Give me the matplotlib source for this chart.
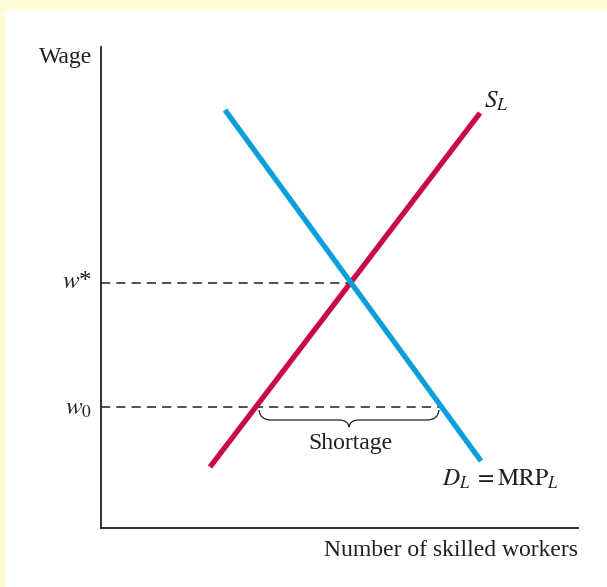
import matplotlib.pyplot as plt
import matplotlib.patches as mpatches
from matplotlib.path import Path

plt.rcParams['font.family'] = ['Liberation Serif', 'DejaVu Serif']
plt.rcParams['mathtext.fontset'] = 'stix'

# curve end points (quantity, wage)
supply_x = [109, 379]
supply_y = [61, 415]
demand_x = [124, 380]
demand_y = [418, 67]

w_star = 245
w_zero = 121
q_supply_w0 = 155
q_demand_w0 = 340

ink = '#231f20'
red = '#c8084a'
blue = '#0a9fdb'

fig = plt.figure(figsize=(6.07, 5.87), dpi=100)
fig.patch.set_facecolor('#fffbd6')
fig.patches.append(mpatches.Rectangle((5 / 607, 0), 1, 1 - 10 / 587, transform=fig.transFigure,
                                      facecolor='white', edgecolor='none', zorder=-5))

# axes frame: y-axis at px 101, x-axis at px 528
ax = fig.add_axes([101 / 607, (587 - 528) / 587, 477 / 607, 481 / 587])
ax.set_zorder(2)
ax.set_xlim(0, 477)
ax.set_ylim(0, 481)
ax.patch.set_alpha(0)
for s in ['top', 'right']:
    ax.spines[s].set_visible(False)
for s in ['left', 'bottom']:
    ax.spines[s].set_color(ink)
    ax.spines[s].set_linewidth(1.3)
ax.set_xticks([])
ax.set_yticks([])

ax.plot(supply_x, supply_y, color=red, lw=3.8, solid_capstyle='butt', zorder=3)
ax.plot(demand_x, demand_y, color=blue, lw=3.8, solid_capstyle='butt', zorder=4)

ax.plot([0, 249], [w_star, w_star], color=ink, lw=1.1, dashes=(6, 4), zorder=2)
ax.plot([0, q_demand_w0], [w_zero, w_zero], color=ink, lw=1.1, dashes=(6, 4), zorder=2)

# brace under the shortage
bx0, bx1 = q_supply_w0 + 3, q_demand_w0 - 2
bm = (bx0 + bx1) / 2
by = w_zero - 3
d = 10
verts = [(bx0, by), (bx0 + 1, by - d), (bx0 + d + 2, by - d),
         (bm - d, by - d), (bm - 1, by - d), (bm, by - 17),
         (bm + 1, by - d), (bm + d, by - d),
         (bx1 - d - 2, by - d), (bx1 - 1, by - d), (bx1, by)]
codes = [Path.MOVETO, Path.CURVE3, Path.CURVE3,
         Path.LINETO, Path.CURVE3, Path.CURVE3,
         Path.CURVE3, Path.CURVE3,
         Path.LINETO, Path.CURVE3, Path.CURVE3]
ax.add_patch(mpatches.PathPatch(Path(verts, codes), facecolor='none', edgecolor=ink, lw=0.9))
ax.text(bm + 1, 84, 'Shortage', ha='center', va='center', fontsize=17, color=ink)

ax.text(-9, w_star + 1, r'$w$*', ha='right', va='center', fontsize=18, color=ink)
ax.text(-9, w_zero - 2, r'$w_0$', ha='right', va='center', fontsize=18, color=ink)
ax.text(-9, 471, 'Wage', ha='right', va='center', fontsize=17, color=ink)
ax.text(383, 427, r'$S_L$', ha='left', va='center', fontsize=18, color=ink)
ax.text(399, 49, r'$D_L\;=\mathrm{MRP}_L$', ha='center', va='center', fontsize=17, color=ink)
ax.text(477, -23, 'Number of skilled workers', ha='right', va='center', fontsize=17, color=ink)

fig.savefig('out.png', dpi=100, facecolor=fig.get_facecolor())
